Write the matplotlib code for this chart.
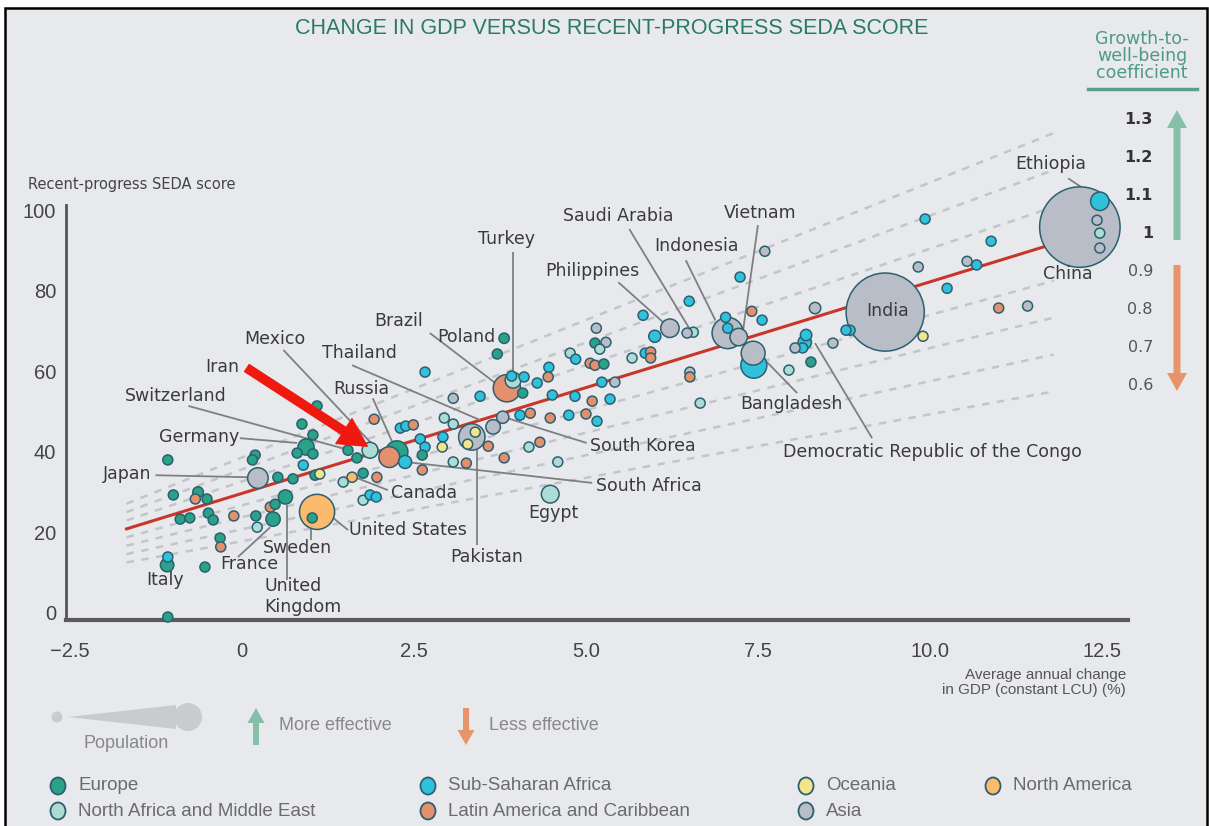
import matplotlib
matplotlib.use('Agg')
import matplotlib.pyplot as plt
import matplotlib.patches as mpatches
import numpy as np

W, H = 1209, 826
BG = '#e7e9ec'
NARROW = ['Liberation Sans', 'DejaVu Sans']

# ---- chart data ----
region_names = {'E': 'Europe', 'S': 'Sub-Saharan Africa', 'O': 'Oceania',
                'N': 'North America', 'M': 'North Africa and Middle East',
                'L': 'Latin America and Caribbean', 'A': 'Asia'}
region_colors = {'E': '#29a287', 'S': '#30c1dc', 'O': '#f4e58a', 'N': '#fbba6c',
                 'M': '#acdcd4', 'L': '#e5906d', 'A': '#b9bdc7'}

country = ['', 'Italy', '', '', '', '', '', '', '', '',
           '', '', '', '', '', '', '', '', 'Japan', '',
           '', '', '', 'France', '', '', 'United Kingdom', '', '', 'Germany',
           '', '', '', '', '', '', 'Sweden', 'United States', 'Switzerland', '',
           'Iran', '', 'Russia', 'Mexico', 'South Africa', '', '', '', 'Canada', '',
           '', '', '', '', '', '', '', '', '', '',
           '', '', '', '', '', 'Pakistan', '', '', '', '',
           '', 'Poland', '', 'Brazil', 'Turkey', '', '', '', '', '',
           '', '', 'Thailand', 'South Korea', '', '', '', '', '', '',
           '', '', 'Egypt', '', '', '', '', '', '', '',
           '', '', '', '', '', '', '', '', '', '',
           '', '', '', 'Philippines', '', 'Saudi Arabia', '', '', '', '',
           'Indonesia', '', '', 'Vietnam', '', '', '', '', '', 'Bangladesh',
           '', '', 'Democratic Republic of the Congo', '', '', '', '', '', '', '',
           'India', '', '', '', '', '', '', '', '', '',
           'China', 'Ethiopia', '', '', '', '', '', '']

region = list('EESEEEEELE'
              'EEELELEEAE'
              'EEMELEEEEE'
              'EESEEOENEE'
              'MLELSMELNM'
              'SSSASSLSSE'
              'LMSOMAOOML'
              'SEELMSESSS'
              'LSAASLLLML'
              'LMMSLSSAMS'
              'LLEAEAMMSL'
              'LSSASMAALM'
              'ASSALSSASA'
              'ASSSAEMASS'
              'AOSASSASLA'
              'ASAMASLS')

gdp_change = [-1.08, -1.09, -1.08, -1.08, -1.00, -0.90, -0.76, -0.64, -0.68, -0.51,
              -0.49, -0.42, -0.32, -0.31, -0.54, -0.12, 0.19, 0.15, 0.23, 0.52,
              0.74, 0.20, 0.22, 0.45, 0.41, 0.48, 0.63, 0.87, 1.03, 0.93,
              0.80, 1.03, 0.89, 1.09, 1.06, 1.13, 1.02, 1.09, 1.54, 1.67,
              1.86, 1.92, 2.25, 2.14, 2.37, 1.47, 1.76, 1.96, 1.60, 1.76,
              1.86, 1.95, 2.66, 3.07, 2.30, 2.38, 2.49, 2.59, 2.66, 2.62,
              2.62, 2.94, 2.92, 2.91, 3.07, 3.34, 3.39, 3.28, 3.07, 3.26,
              3.46, 3.81, 3.71, 3.85, 3.94, 3.92, 4.08, 4.10, 4.29, 4.46,
              4.45, 4.51, 3.65, 3.79, 4.04, 4.19, 4.48, 3.58, 4.17, 4.33,
              3.81, 4.59, 4.48, 4.84, 5.09, 5.35, 5.23, 5.42, 4.77, 4.85,
              5.06, 5.13, 5.26, 5.15, 5.13, 5.29, 5.20, 5.67, 5.86, 5.94,
              5.94, 5.83, 6.00, 6.22, 6.50, 6.56, 6.47, 6.51, 6.51, 6.66,
              7.06, 7.03, 7.06, 7.22, 7.41, 7.56, 7.24, 7.60, 7.44, 7.43,
              8.33, 8.20, 8.18, 8.15, 8.04, 8.27, 7.95, 8.59, 8.84, 8.78,
              9.35, 9.90, 9.93, 9.83, 10.25, 10.89, 10.54, 10.68, 11.00, 11.42,
              12.18, 12.47, 12.43, 12.47, 12.47, 4.75, 5.00, 5.16]

seda_score = [-1.0, 11.9, 13.9, 38.0, 29.3, 23.3, 23.6, 30.0, 28.3, 28.3,
              24.8, 23.1, 18.6, 16.4, 11.4, 24.1, 39.2, 38.0, 33.5, 33.7,
              33.3, 24.1, 21.3, 23.3, 26.3, 27.0, 28.8, 46.9, 44.2, 41.2,
              39.7, 39.5, 36.7, 51.4, 34.2, 34.5, 23.6, 25.1, 40.4, 38.5,
              40.4, 48.1, 40.0, 38.7, 37.5, 32.5, 34.7, 33.7, 33.7, 28.0,
              29.3, 28.8, 59.8, 53.3, 45.9, 46.4, 46.7, 43.2, 41.2, 39.2,
              35.5, 48.4, 43.7, 41.2, 46.9, 43.7, 44.9, 41.9, 37.5, 37.2,
              53.8, 68.2, 64.3, 55.8, 57.8, 58.8, 54.6, 58.6, 57.1, 61.0,
              58.6, 54.1, 46.2, 48.6, 49.1, 49.6, 48.4, 41.4, 41.2, 42.4,
              38.5, 37.5, 29.5, 53.8, 52.6, 53.1, 57.3, 57.3, 64.5, 63.0,
              62.0, 61.5, 61.8, 70.7, 67.0, 67.2, 65.5, 63.3, 64.5, 64.8,
              63.3, 73.9, 68.7, 70.7, 77.4, 69.7, 69.5, 59.8, 58.6, 52.1,
              69.5, 73.4, 70.7, 68.5, 74.9, 72.7, 83.4, 89.8, 61.5, 64.5,
              75.7, 69.0, 67.2, 65.8, 65.8, 62.3, 60.3, 67.0, 70.2, 70.2,
              74.7, 68.7, 97.8, 85.9, 80.6, 92.3, 87.3, 86.4, 75.7, 76.2,
              95.8, 102.2, 97.5, 94.3, 90.6, 49.1, 49.4, 47.6]

# population in millions (bubble size); 20 = small country
population = [20, 60, 20, 20, 20, 20, 20, 40, 20, 20,
              20, 20, 20, 20, 20, 20, 20, 20, 127, 20,
              20, 20, 20, 67, 20, 20, 66, 20, 20, 83,
              20, 20, 20, 20, 20, 20, 10, 325, 8, 20,
              81, 20, 144, 129, 57, 20, 20, 20, 37, 20,
              20, 20, 20, 20, 20, 20, 20, 20, 20, 20,
              20, 20, 20, 20, 20, 197, 20, 20, 20, 20,
              20, 38, 20, 209, 81, 20, 20, 20, 20, 20,
              20, 20, 69, 51, 20, 20, 20, 20, 20, 20,
              20, 20, 98, 20, 20, 20, 20, 20, 20, 20,
              20, 20, 20, 20, 20, 20, 20, 20, 20, 20,
              20, 20, 50, 105, 20, 33, 20, 20, 20, 20,
              264, 20, 20, 95, 20, 20, 20, 20, 191, 165,
              45, 45, 60, 20, 20, 20, 20, 20, 20, 20,
              1320, 20, 20, 20, 20, 20, 20, 20, 20, 20,
              1390, 105, 20, 20, 20, 20, 20, 20]

# trend line (coefficient 1) and the other growth-to-well-being levels
trend_intercept = 29.7
trend_slope = 5.25
trend_x = [-1.68, 11.8]
coef_levels = [1.3, 1.2, 1.1, 1.0, 0.9, 0.8, 0.7, 0.6]

x_ticks = [-2.5, 0, 2.5, 5.0, 7.5, 10.0, 12.5]
x_ticklabels = ['\u22122.5', '0', '2.5', '5.0', '7.5', '10.0', '12.5']
y_ticks = [0, 20, 40, 60, 80, 100]

# label placement: text position, leader line start, leader line end
labels = [
    ('Ethiopia', (11.76, 111.4), (12.01, 107.9), (12.38, 103.7)),
    ('China', (12.01, 84.1), (11.89, 87.8), (11.98, 90.3)),
    ('Vietnam', (7.53, 99.3), (7.50, 96.3), (7.27, 68.5)),
    ('Saudi Arabia', (5.47, 98.5), (5.63, 95.3), (6.50, 70.7)),
    ('Indonesia', (6.60, 91.1), (6.45, 87.6), (6.88, 72.7)),
    ('Turkey', (3.84, 92.8), (3.94, 89.6), (3.94, 59.6)),
    ('Philippines', (5.10, 84.9), (5.47, 82.1), (6.12, 72.2)),
    ('Brazil', (2.27, 72.5), (2.73, 69.5), (3.68, 57.1)),
    ('Poland', (3.26, 68.5), None, None),
    ('Thailand', (1.70, 64.5), (1.60, 61.5), (3.46, 47.9)),
    ('Mexico', (0.48, 68.0), (0.60, 65.3), (1.93, 41.2)),
    ('Iran', (-0.29, 61.0), None, None),
    ('Russia', (1.74, 55.6), (1.90, 53.3), (2.19, 42.2)),
    ('Switzerland', (-0.96, 53.8), (-0.78, 51.4), (1.50, 40.7)),
    ('Germany', (-0.63, 43.7), (-0.03, 43.4), (0.80, 42.2)),
    ('Japan', (-1.67, 34.5), (-1.26, 34.2), (0.09, 33.7)),
    ('Canada', (2.65, 29.8), (2.12, 30.5), (1.67, 33.5)),
    ('United States', (2.41, 20.6), (1.54, 20.6), (1.31, 23.8)),
    ('Sweden', (0.81, 16.1), (1.00, 18.1), (1.00, 22.6)),
    ('France', (0.10, 12.2), (-0.06, 13.9), (0.41, 21.3)),
    ('United\nKingdom', (0.89, 4.0), (0.65, 8.2), (0.65, 26.8)),
    ('Italy', (-1.12, 8.2), None, None),
    ('Pakistan', (3.56, 13.9), (3.42, 16.9), (3.42, 40.4)),
    ('Egypt', (4.53, 24.8), None, None),
    ('South Korea', (5.83, 41.4), (5.01, 42.2), (3.85, 48.4)),
    ('South Africa', (5.92, 31.5), (5.09, 32.3), (2.37, 37.5)),
    ('Bangladesh', (7.98, 51.9), (8.07, 54.6), (7.63, 62.3)),
    ('Democratic Republic of the Congo', (10.03, 40.0), (9.16, 43.4), (8.33, 67.0)),
    ('India', (9.38, 74.9), None, None),
]

# ---- figure ----
fig = plt.figure(figsize=(W / 100, H / 100), dpi=100)
fig.patch.set_facecolor('white')

# decoration layer in pixel units
deco = fig.add_axes([0, 0, 1, 1])
deco.set_xlim(0, W)
deco.set_ylim(H, 0)
deco.axis('off')
deco.add_patch(mpatches.Rectangle((5, 8), W - 7, H, facecolor=BG,
                                  edgecolor='black', lw=1.8))

deco.text(612, 29, 'CHANGE IN GDP VERSUS RECENT-PROGRESS SEDA SCORE',
          ha='center', va='center', fontsize=15.5, color='#2b7a64',
          family=NARROW)

# main scatter axes
ax = fig.add_axes([66 / W, 1 - 620 / H, (1128 - 66) / W, (620 - 130) / H])
ax.set_facecolor('none')
ax.set_xlim(-2.56, 12.88)
ax.set_ylim(-1.74, 119.9)
for s in ['top', 'right']:
    ax.spines[s].set_visible(False)
ax.spines['left'].set_bounds(-1.74, 101.3)
ax.spines['left'].set_color('#555555')
ax.spines['left'].set_linewidth(2)
ax.spines['bottom'].set_color('#5a5a5a')
ax.spines['bottom'].set_linewidth(3)
ax.set_xticks(x_ticks)
ax.set_xticklabels(x_ticklabels)
ax.set_yticks(y_ticks)
ax.tick_params(length=0, labelsize=14.5, labelcolor='#444444')
ax.tick_params(axis='x', pad=16)
ax.tick_params(axis='y', pad=7)
for lab in ax.get_xticklabels() + ax.get_yticklabels():
    lab.set_family(NARROW)

# dashed coefficient lines and red trend
tx = np.array(trend_x)
for k in coef_levels:
    ty = k * (trend_intercept + trend_slope * tx)
    if k == 1.0:
        ax.plot(tx, ty, color='#c8362a', lw=2.2, zorder=2)
    else:
        ax.plot(tx, ty, color='#c2c5c9', lw=1.8, ls=(0, (3, 3)), zorder=1)

# bubbles, largest first so small ones sit on top
gx = np.array(gdp_change)
gy = np.array(seda_score)
pop = np.array(population, dtype=float)
radius = np.maximum(5.0, 0.65 * pop ** 0.57)
sizes = (2 * radius * 0.72) ** 2
colors = np.array([region_colors[r] for r in region])
order = np.argsort(-radius, kind='stable')
ax.scatter(gx[order], gy[order], s=sizes[order], c=colors[order],
           edgecolors='#2c5f70', linewidths=1.1, zorder=3, clip_on=False)

# country labels with leader lines
for name, txy, p0, p1 in labels:
    if p0 is not None:
        ax.plot([p0[0], p1[0]], [p0[1], p1[1]], color='#7d7f82', lw=1.3,
                zorder=2.5, solid_capstyle='butt')
    ax.text(txy[0], txy[1], name, ha='center', va='center', fontsize=12.5,
            color='#3a3a3a', multialignment='left', zorder=5)

# red arrow pointing at Iran
ax.annotate('', xy=(1.82, 41.4), xytext=(0.07, 60.8),
            arrowprops=dict(arrowstyle='simple,head_length=0.8,head_width=0.85,tail_width=0.24',
                            color='#f0190f', mutation_scale=25,
                            shrinkA=0, shrinkB=0), zorder=6)

# axis titles
deco.text(28, 184, 'Recent-progress SEDA score', ha='left', va='center',
          fontsize=10.5, color='#444444')
deco.text(1126, 675, 'Average annual change', ha='right', va='center',
          fontsize=11, color='#555555', family=NARROW)
deco.text(1126, 690, 'in GDP (constant LCU) (%)', ha='right', va='center',
          fontsize=11, color='#555555', family=NARROW)

# growth-to-well-being coefficient scale
deco.text(1142, 56, 'Growth-to-\nwell-being\ncoefficient', ha='center',
          va='center', fontsize=12.5, color='#4f9a83', linespacing=0.92)
deco.plot([1088, 1197], [89, 89], color='#5b9f89', lw=2.5)
for i, k in enumerate(coef_levels):
    yk = 120 + i * 38.0
    bold = k >= 1.0
    deco.text(1153, yk, f'{k:g}', ha='right', va='center', fontsize=11.5,
              color='#333333' if bold else '#555555',
              fontweight='bold' if bold else 'normal')
deco.add_patch(mpatches.FancyArrow(1177, 240, 0, -130, width=7, head_width=20,
                                   head_length=18, length_includes_head=True,
                                   color='#86c0a9', lw=0))
deco.add_patch(mpatches.FancyArrow(1177, 265, 0, 126, width=7, head_width=20,
                                   head_length=18, length_includes_head=True,
                                   color='#e8946b', lw=0))

# population key
deco.add_patch(mpatches.Circle((57, 717), 5.5, color='#c9cbcf', lw=0))
deco.add_patch(mpatches.Polygon([[68, 717], [176, 705], [176, 729]],
                                closed=True, color='#c9cbcf', lw=0))
deco.add_patch(mpatches.Circle((188, 717), 14, color='#c9cbcf', lw=0))
deco.text(126, 743, 'Population', ha='center', va='center', fontsize=13,
          color='#888888', family=NARROW)

deco.add_patch(mpatches.FancyArrow(256, 745, 0, -37, width=6, head_width=17,
                                   head_length=15, length_includes_head=True,
                                   color='#86c0a9', lw=0))
deco.text(279, 725, 'More effective', ha='left', va='center', fontsize=13,
          color='#888888', family=NARROW)
deco.add_patch(mpatches.FancyArrow(466, 708, 0, 37, width=6, head_width=17,
                                   head_length=15, length_includes_head=True,
                                   color='#e8946b', lw=0))
deco.text(489, 725, 'Less effective', ha='left', va='center', fontsize=13,
          color='#888888', family=NARROW)

# region key
key_slots = [('E', 58, 786), ('S', 428, 786), ('O', 806, 786), ('N', 993, 786),
             ('M', 58, 811), ('L', 428, 811), ('A', 806, 811)]
for code, kx, ky in key_slots:
    deco.add_patch(mpatches.Ellipse((kx, ky), 15, 17, facecolor=region_colors[code],
                                    edgecolor='#2c5f70', lw=1.3))
    deco.text(kx + 20, ky, region_names[code], ha='left', va='center',
              fontsize=13.5, color='#6b6b6b', family=NARROW)

fig.savefig('out.png', dpi=100, facecolor=fig.get_facecolor())
